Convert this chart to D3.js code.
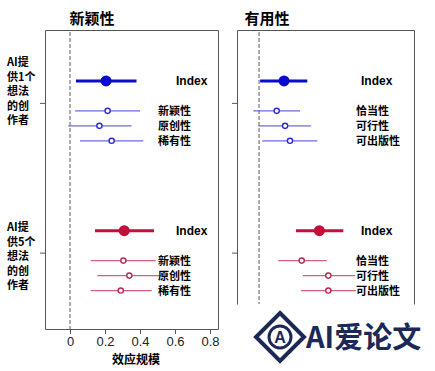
<!DOCTYPE html>
<html>
<head>
<meta charset="utf-8">
<script src="https://cdn.jsdelivr.net/npm/d3@7"></script>
<style>
  body { margin: 0; background: #fff; }
  text { font-family: "Noto Sans CJK SC", "Liberation Sans", sans-serif; }
</style>
</head>
<body>
<script>
// chart data (effect size, lower CI, upper CI)
var panelTitles = ['新颖性', '有用性'],
	groupLabels = [['AI提', '供1个', '想法', '的创', '作者'], ['AI提', '供5个', '想法', '的创', '作者']],
	novItems = ['Index', '新颖性', '原创性', '稀有性'],
	useItems = ['Index', '恰当性', '可行性', '可出版性'],
	xTicks = [0, 0.2, 0.4, 0.6, 0.8];

var nov1 = [[0.206, 0.034, 0.380], [0.215, 0.029, 0.400], [0.168, -0.010, 0.352], [0.238, 0.057, 0.419]],
	nov5 = [[0.310, 0.143, 0.480], [0.305, 0.118, 0.490], [0.339, 0.156, 0.518], [0.290, 0.118, 0.467]],
	use1 = [[0.143, 0.006, 0.276], [0.101, -0.032, 0.234], [0.149, -0.004, 0.297], [0.177, 0.019, 0.333]],
	use5 = [[0.345, 0.211, 0.482], [0.244, 0.110, 0.387], [0.396, 0.250, 0.549], [0.396, 0.240, 0.554]];

// layout
var width = 435, height = 371,
	frameTop = 30,
	rowUnits = [0, 2, 3, 4],      // index row then item rows
	groupOffset = [0, 10],
	blue = '#0b0bcc', blueLight = '#6b6bdc',
	red = '#c40f3c', redLight = '#d4617c';

var svg = d3.select('body').append('svg')
	.attr('width', width)
	.attr('height', height);

var y = d3.scaleLinear().domain([-3.4, 16.5]).range([30, 328]);

var panels = [
	{ title: panelTitles[0], titleX: 92, items: novItems, data: [nov1, nov5], x: d3.scaleLinear().domain([-0.143, 0.846]).range([45, 218]), bottom: 329, closed: true, labelX: 158, idxX: 176, axis: true },
	{ title: panelTitles[1], titleX: 267, items: useItems, data: [use1, use5], x: d3.scaleLinear().domain([-0.126, 0.886]).range([237, 414]), bottom: 304, closed: false, labelX: 356, idxX: 361, axis: false }
];

panels.forEach(function(p) {
	var x = p.x, r = x.range();
	var g = svg.append('g');

	// frame (right one is cut off by the watermark)
	var l = r[0] + .5, rr = r[1] + .5, t = frameTop + .5, b = p.bottom + .5;
	g.append('path')
		.attr('d', 'M' + l + ',' + b + 'V' + t + 'H' + rr + 'V' + b + (p.closed ? 'Z' : ''))
		.attr('fill', 'none').attr('stroke', '#555').attr('stroke-width', 1);

	// zero line
	g.append('line')
		.attr('x1', x(0)).attr('x2', x(0))
		.attr('y1', frameTop + 2).attr('y2', p.bottom)
		.attr('stroke', '#777').attr('stroke-width', 1.2)
		.attr('stroke-dasharray', '4,2');

	// y ticks
	[1.5, 11.5].forEach(function(u) {
		g.append('line')
			.attr('x1', r[0] - 5).attr('x2', r[0])
			.attr('y1', y(u)).attr('y2', y(u))
			.attr('stroke', '#555');
	});

	// title
	g.append('text')
		.attr('x', p.titleX).attr('y', 24)
		.attr('text-anchor', 'middle')
		.style('font-size', '15px').style('font-weight', 'bold')
		.text(p.title);

	p.data.forEach(function(rows, gi) {
		var main = gi === 0 ? blue : red,
			light = gi === 0 ? blueLight : redLight;
		rows.forEach(function(d, i) {
			var yy = y(rowUnits[i] + groupOffset[gi]),
				isIdx = i === 0;
			g.append('line')
				.attr('x1', x(d[1])).attr('x2', x(d[2]))
				.attr('y1', yy).attr('y2', yy)
				.attr('stroke', isIdx ? main : light)
				.attr('stroke-width', isIdx ? 3 : 1.3);
			g.append('circle')
				.attr('cx', x(d[0])).attr('cy', yy)
				.attr('r', isIdx ? 5.5 : 2.6)
				.attr('fill', isIdx ? main : '#fff')
				.attr('stroke', isIdx ? main : (gi === 0 ? '#2a2ad0' : '#b8284e'))
				.attr('stroke-width', isIdx ? 0 : 1.4);
			g.append('text')
				.attr('x', isIdx ? p.idxX : p.labelX)
				.attr('y', yy + 4)
				.style('font-size', isIdx ? '12px' : '11px').style('font-weight', 'bold')
				.style('font-family', isIdx ? 'Liberation Sans, Arial, sans-serif' : null)
				.text(p.items[i]);
		});
	});

	if (p.axis) {
		var ax = g.append('g')
			.attr('transform', 'translate(0,' + p.bottom + ')')
			.call(d3.axisBottom(x).tickValues(xTicks).tickSize(5).tickPadding(3)
				.tickFormat(function(d) { return d === 0 ? '0' : d3.format('.1f')(d); }));
		ax.select('.domain').remove();
		ax.selectAll('line').attr('stroke', '#555');
		ax.selectAll('text')
			.style('font-family', 'Liberation Sans, Arial, sans-serif')
			.style('font-size', '13px').attr('fill', '#222');
		g.append('text')
			.attr('x', 136).attr('y', 364)
			.attr('text-anchor', 'middle')
			.style('font-size', '12px').style('font-weight', 'bold')
			.text('效应规模');
	}
});

// group labels
groupLabels.forEach(function(lines, gi) {
	var y0 = gi === 0 ? 66 : 231;
	lines.forEach(function(t, i) {
		svg.append('text')
			.attr('x', 7).attr('y', y0 + i * 14.5)
			.style('font-size', '11px').style('font-weight', 'bold')
			.text(t);
	});
});

// watermark
var wm = svg.append('g'), navy = '#1c2957';
wm.append('path')
	.attr('d', 'M280,313 L304,337 L280,361 L256,337 Z')
	.attr('fill', 'none').attr('stroke', navy).attr('stroke-width', 4)
	.attr('stroke-linejoin', 'miter');
wm.append('circle')
	.attr('cx', 280).attr('cy', 337).attr('r', 11)
	.attr('fill', '#fff').attr('stroke', navy).attr('stroke-width', 3);
wm.append('text')
	.attr('x', 280).attr('y', 343)
	.attr('text-anchor', 'middle')
	.style('font-family', 'Liberation Sans, Arial, sans-serif')
	.style('font-size', '16px').style('font-weight', 'bold')
	.attr('fill', navy)
	.text('A');
wm.append('text')
	.attr('x', 306).attr('y', 348)
	.style('font-size', '29px').style('font-weight', 'bold')
	.attr('fill', navy)
	.text('AI爱论文');
</script>
</body>
</html>
